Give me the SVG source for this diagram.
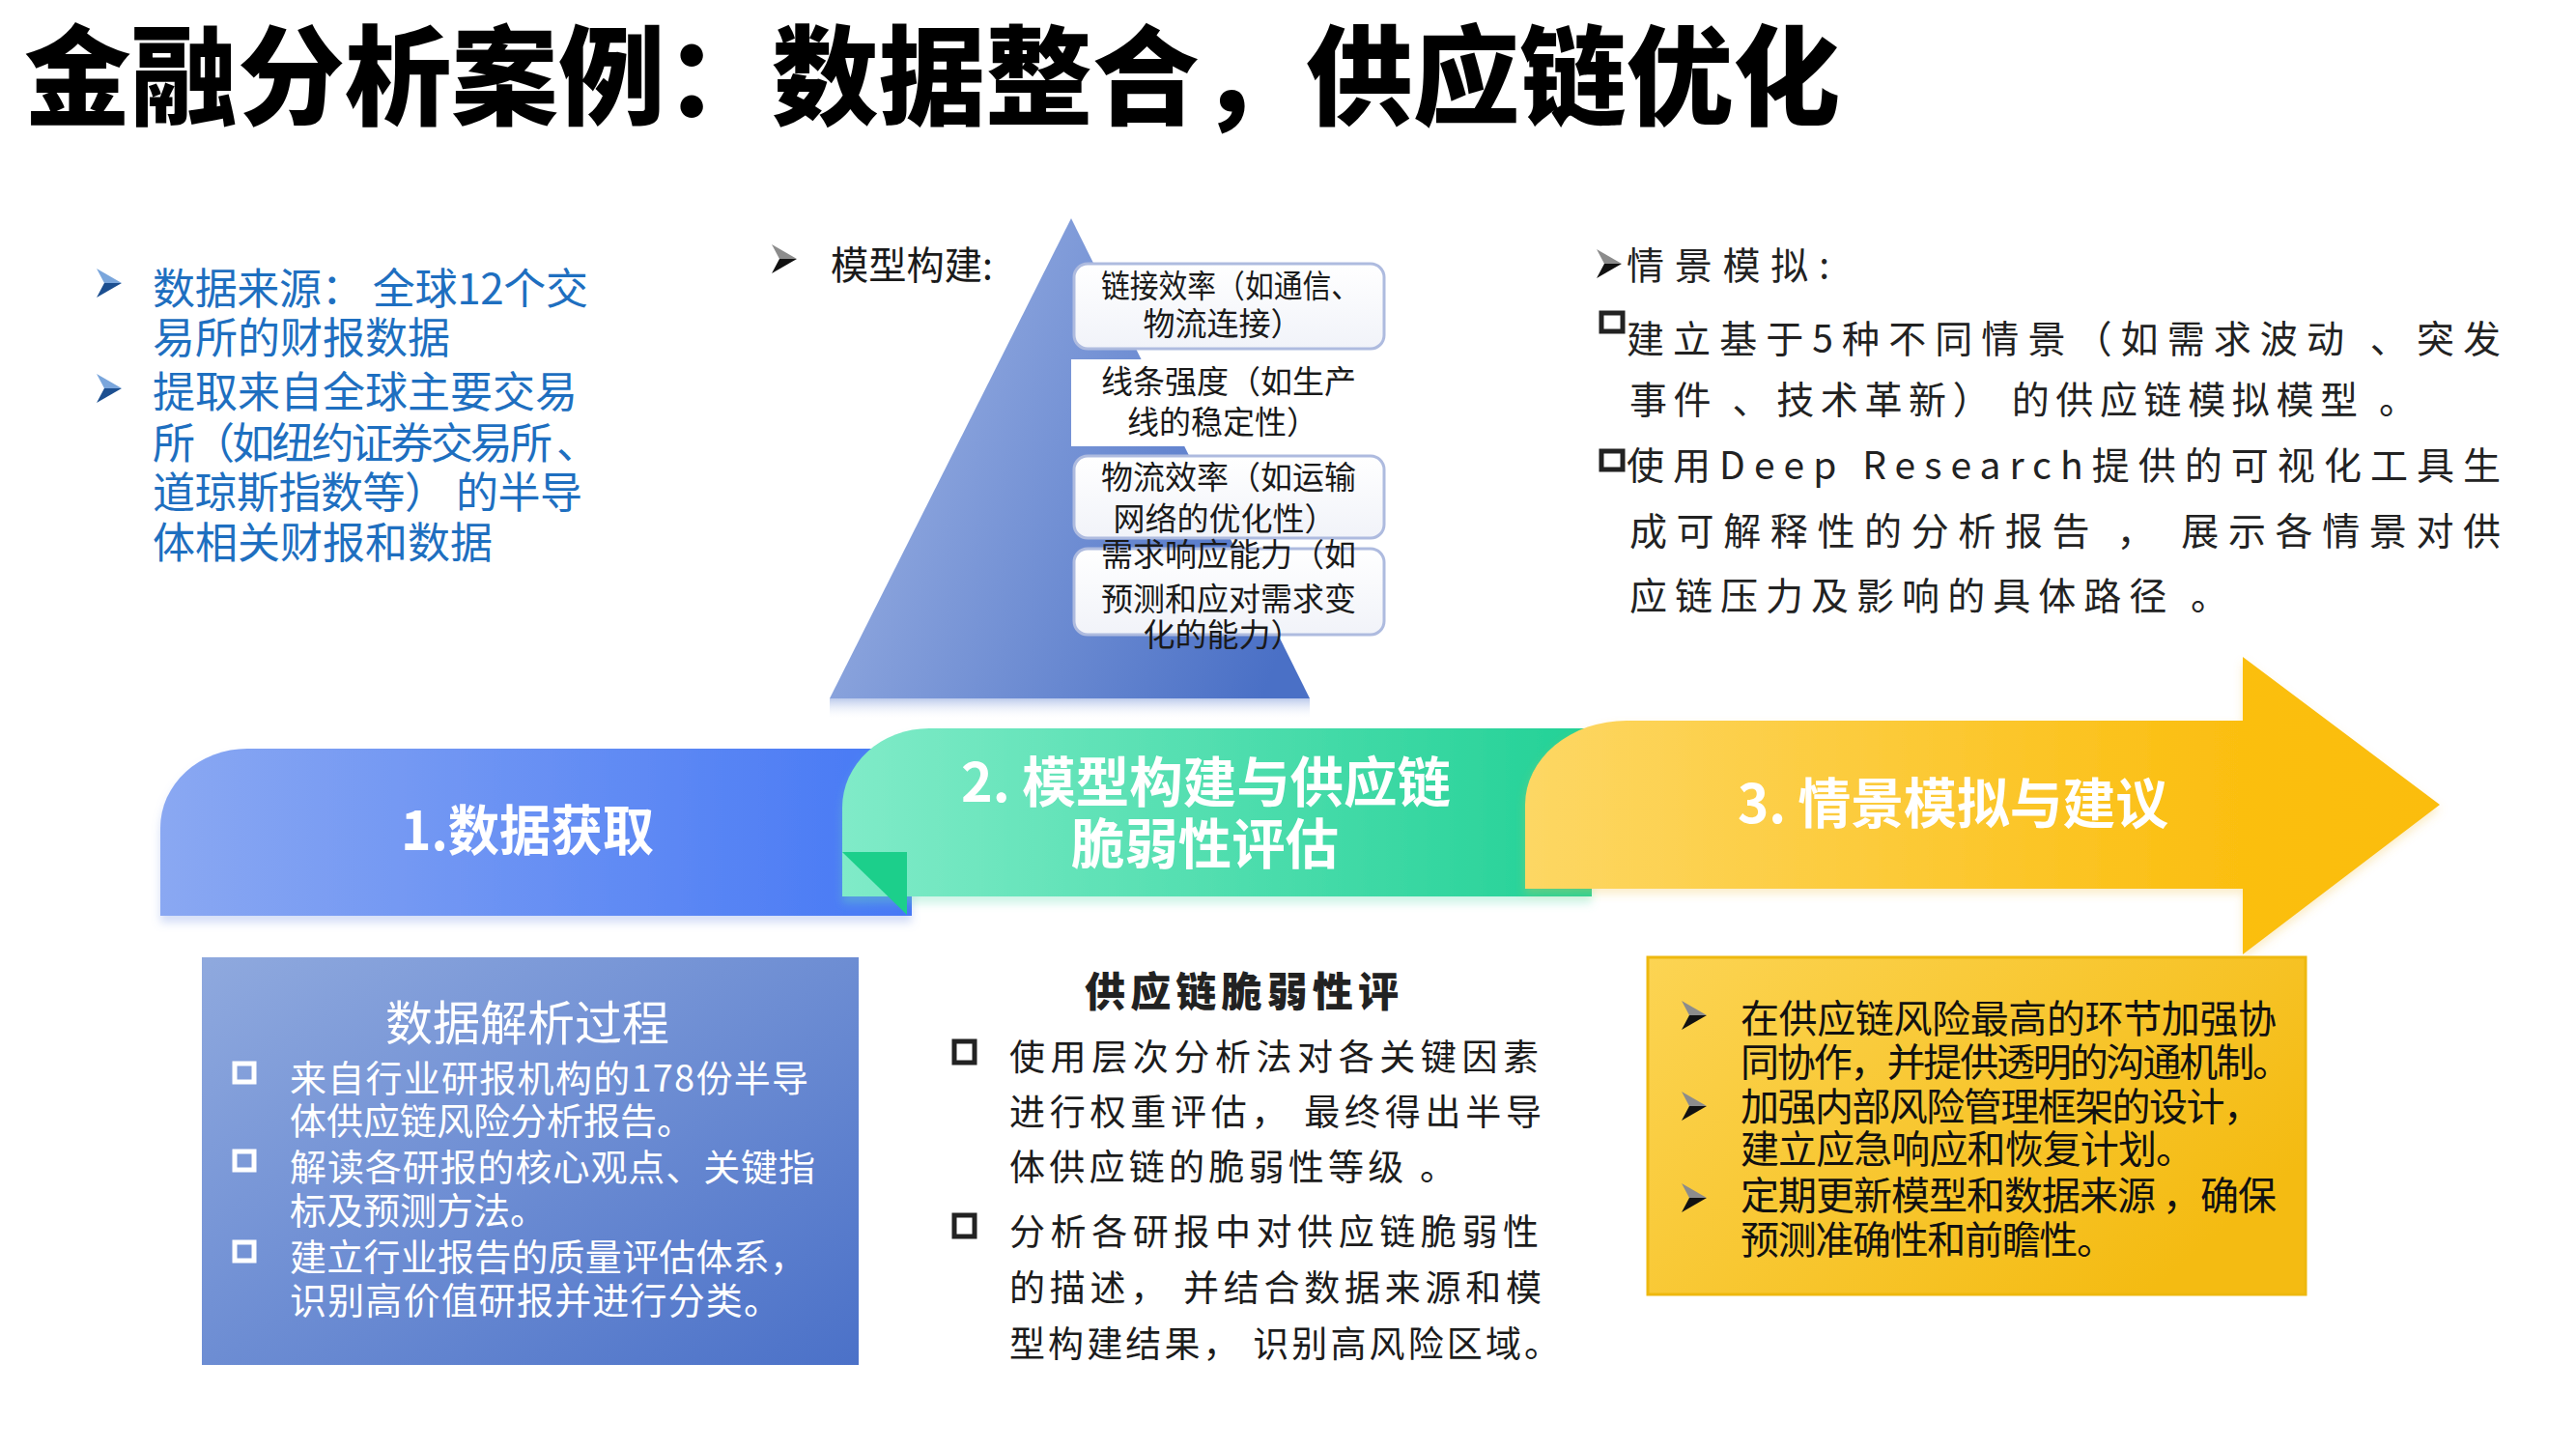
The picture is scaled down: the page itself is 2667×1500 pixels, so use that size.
<svg xmlns="http://www.w3.org/2000/svg" width="2667" height="1500" viewBox="0 0 2667 1500">
<style>
.t{font-family:"Noto Sans CJK SC","Noto Sans",sans-serif}
.title{font-size:112px;font-weight:900;fill:#000}
.blueTxt{font-size:44px;fill:#1e6fc0}
.lbl{font-size:33px;fill:#1a1a1a;text-anchor:middle}
.rt{font-size:39px;fill:#222}
.band{font-size:56px;font-weight:700;fill:#fff}
.wt{font-size:38px;fill:#fff}
.mt{font-size:37px;fill:#1c1c1c}
.yt{font-size:40px;fill:#111}
.box{fill:url(#gBoxW);stroke:#aebbdf;stroke-width:3}
.sqW{fill:none;stroke:#fff;stroke-width:5}
.sqD{fill:#fff;stroke:#222;stroke-width:5}
</style>
<defs>
<linearGradient id="gPyr" gradientUnits="userSpaceOnUse" x1="860" y1="400" x2="1356" y2="600">
<stop offset="0" stop-color="#9ab0e2"/><stop offset="1" stop-color="#4a70c6"/>
</linearGradient>
<linearGradient id="gRefl" x1="0" y1="0" x2="0" y2="1">
<stop offset="0" stop-color="#8ea6de" stop-opacity="0.6"/><stop offset="1" stop-color="#ffffff" stop-opacity="0"/>
</linearGradient>
<linearGradient id="gBoxW" x1="0" y1="0" x2="0" y2="1">
<stop offset="0" stop-color="#ffffff"/><stop offset="1" stop-color="#f1f3f9"/>
</linearGradient>
<linearGradient id="gBlue" gradientUnits="userSpaceOnUse" x1="166" y1="0" x2="944" y2="0">
<stop offset="0" stop-color="#8aa8f2"/><stop offset="1" stop-color="#4678f5"/>
</linearGradient>
<linearGradient id="gGreen" gradientUnits="userSpaceOnUse" x1="872" y1="0" x2="1648" y2="0">
<stop offset="0" stop-color="#80ebc8"/><stop offset="1" stop-color="#22d196"/>
</linearGradient>
<linearGradient id="gYel" gradientUnits="userSpaceOnUse" x1="1579" y1="0" x2="2526" y2="0">
<stop offset="0" stop-color="#fdd764"/><stop offset="0.75" stop-color="#fbbf12"/><stop offset="1" stop-color="#fbbd0a"/>
</linearGradient>
<linearGradient id="gBoxBlue" x1="0" y1="0" x2="1" y2="1">
<stop offset="0" stop-color="#8fa9de"/><stop offset="1" stop-color="#4b71c8"/>
</linearGradient>
<linearGradient id="gBoxYel" x1="0" y1="0" x2="1" y2="0.6">
<stop offset="0" stop-color="#fcd453"/><stop offset="1" stop-color="#f4bb12"/>
</linearGradient>
<filter id="shB" x="-5%" y="-5%" width="110%" height="125%"><feDropShadow dx="0" dy="7" stdDeviation="5" flood-color="#7f9de8" flood-opacity="0.35"/></filter>
<filter id="shG" x="-5%" y="-5%" width="110%" height="125%"><feDropShadow dx="0" dy="7" stdDeviation="5" flood-color="#6fe0b8" flood-opacity="0.35"/></filter>
<filter id="shY" x="-5%" y="-5%" width="110%" height="125%"><feDropShadow dx="0" dy="5" stdDeviation="5" flood-color="#f2c24a" flood-opacity="0.3"/></filter>
<g id="bulletBlue"><path d="M0,0 L26,15 L8,15 Z" fill="#7aa6dc"/><path d="M8,15 L26,15 L0,30 Z" fill="#1c4f90"/></g>
<g id="bulletDark"><path d="M0,0 L26,15 L8,15 Z" fill="#8c8c8c"/><path d="M8,15 L26,15 L0,30 Z" fill="#111"/></g>
</defs>

<rect width="2667" height="1500" fill="#fff"/>

<g id="title">
<text class="t title" x="25" y="121" textLength="1880" lengthAdjust="spacingAndGlyphs">金融分析案例：数据整合，供应链优化</text>
</g>

<g id="data-source-notes">
<use href="#bulletBlue" x="100" y="278"/>
<use href="#bulletBlue" x="100" y="387"/>
<text class="t blueTxt" x="158" y="315" textLength="451">数据来源： 全球12个交</text>
<text class="t blueTxt" x="158" y="366">易所的财报数据</text>
<text class="t blueTxt" x="158" y="422">提取来自全球主要交易</text>
<text class="t blueTxt" x="158" y="475" textLength="462">所（如纽约证券交易所 、</text>
<text class="t blueTxt" x="158" y="526" textLength="445">道琼斯指数等） 的半导</text>
<text class="t blueTxt" x="158" y="578">体相关财报和数据</text>
</g>

<g id="model-pyramid">
<polygon points="1109,226 1356,723 859,723" fill="url(#gPyr)"/>
<rect x="859" y="723" width="497" height="22" fill="url(#gRefl)"/>
<use href="#bulletDark" x="799" y="253"/>
<text class="t" x="860" y="289" font-size="40" fill="#1a1a1a" textLength="168" lengthAdjust="spacingAndGlyphs">模型构建:</text>
<rect class="box" x="1112" y="273" width="321" height="88" rx="14"/>
<rect x="1109" y="372" width="325" height="90" fill="#fff"/>
<rect class="box" x="1112" y="472" width="321" height="85" rx="14"/>
<rect class="box" x="1112" y="568" width="321" height="89" rx="14"/>
<text class="t lbl" x="1274" y="308" textLength="268" lengthAdjust="spacingAndGlyphs">链接效率（如通信、</text>
<text class="t lbl" x="1266" y="347">物流连接）</text>
<text class="t lbl" x="1272" y="407">线条强度（如生产</text>
<text class="t lbl" x="1266" y="449">线的稳定性）</text>
<text class="t lbl" x="1272" y="506">物流效率（如运输</text>
<text class="t lbl" x="1268" y="549">网络的优化性）</text>
<text class="t lbl" x="1272" y="586">需求响应能力（如</text>
<text class="t lbl" x="1272" y="632">预测和应对需求变</text>
<text class="t lbl" x="1266" y="669">化的能力）</text>
</g>

<g id="scenario-notes">
<use href="#bulletDark" x="1653" y="258"/>
<text class="t rt" x="1684" y="289" textLength="210">情景模拟:</text>
<rect class="sqD" x="1658" y="324" width="22" height="19"/>
<text class="t rt" x="1684" y="365" textLength="905">建立基于5种不同情景（如需求波动 、突发</text>
<text class="t rt" x="1687" y="428" textLength="815">事件 、技术革新） 的供应链模拟模型 。</text>
<rect class="sqD" x="1658" y="467" width="22" height="19"/>
<text class="t rt" x="1684" y="496" textLength="905">使用Deep  Research提供的可视化工具生</text>
<text class="t rt" x="1687" y="564" textLength="902">成可解释性的分析报告 ， 展示各情景对供</text>
<text class="t rt" x="1687" y="631" textLength="620">应链压力及影响的具体路径 。</text>
</g>

<g id="stage-1">
<path d="M166,948 V857 A90,82 0 0 1 256,775 H944 V948 Z" fill="url(#gBlue)" filter="url(#shB)"/>
<text class="t band" x="415" y="880" textLength="262" lengthAdjust="spacingAndGlyphs">1.数据获取</text>
</g>

<g id="stage-2">
<path d="M872,928 V836 A90,82 0 0 1 962,754 H1648 V928 Z" fill="url(#gGreen)" filter="url(#shG)"/>
<path d="M872,882 H939 V947 Z" fill="#1ccf8b"/>
<text class="t band" x="995" y="830" textLength="507" lengthAdjust="spacingAndGlyphs">2. 模型构建与供应链</text>
<text class="t band" x="1109" y="894" textLength="277" lengthAdjust="spacingAndGlyphs">脆弱性评估</text>
</g>

<g id="stage-3">
<path d="M1579,920 V833 A105,87 0 0 1 1684,746 H2322 V680 L2526,833 L2322,988 V920 Z" fill="url(#gYel)" filter="url(#shY)"/>
<text class="t band" x="1799" y="852" textLength="446" lengthAdjust="spacingAndGlyphs">3. 情景模拟与建议</text>
</g>

<g id="connectors"></g>

<g id="data-parsing-box">
<rect x="209" y="991" width="680" height="422" fill="url(#gBoxBlue)"/>
<text class="t" x="546" y="1077" font-size="49" fill="#fff" text-anchor="middle">数据解析过程</text>
<rect class="sqW" x="243" y="1101" width="20" height="19"/>
<rect class="sqW" x="243" y="1192" width="20" height="19"/>
<rect class="sqW" x="243" y="1286" width="20" height="19"/>
<text class="t wt" x="300" y="1130" textLength="537">来自行业研报机构的178份半导</text>
<text class="t wt" x="300" y="1174">体供应链风险分析报告。</text>
<text class="t wt" x="300" y="1222" textLength="544">解读各研报的核心观点、关键指</text>
<text class="t wt" x="300" y="1267">标及预测方法。</text>
<text class="t wt" x="300" y="1315" textLength="535">建立行业报告的质量评估体系，</text>
<text class="t wt" x="300" y="1360" textLength="508">识别高价值研报并进行分类。</text>
</g>

<g id="vulnerability-box">
<text class="t" x="1123" y="1042" font-size="42" font-weight="900" fill="#222" textLength="325">供应链脆弱性评</text>
<rect class="sqD" x="988" y="1078" width="21" height="22"/>
<rect class="sqD" x="988" y="1258" width="21" height="22"/>
<text class="t mt" x="1045" y="1108" textLength="548">使用层次分析法对各关键因素</text>
<text class="t mt" x="1045" y="1165" textLength="551">进行权重评估， 最终得出半导</text>
<text class="t mt" x="1045" y="1222" textLength="462">体供应链的脆弱性等级 。</text>
<text class="t mt" x="1045" y="1289" textLength="548">分析各研报中对供应链脆弱性</text>
<text class="t mt" x="1045" y="1347" textLength="551">的描述， 并结合数据来源和模</text>
<text class="t mt" x="1045" y="1405" textLength="570">型构建结果， 识别高风险区域。</text>
</g>

<g id="recommendation-box">
<rect x="1706" y="991" width="681" height="349" fill="url(#gBoxYel)" stroke="#eeb80e" stroke-width="3"/>
<use href="#bulletDark" x="1741" y="1036"/>
<use href="#bulletDark" x="1741" y="1130"/>
<use href="#bulletDark" x="1741" y="1225"/>
<text class="t yt" x="1802" y="1069" textLength="555">在供应链风险最高的环节加强协</text>
<text class="t yt" x="1802" y="1114" textLength="570">同协作，并提供透明的沟通机制。</text>
<text class="t yt" x="1802" y="1160" textLength="540">加强内部风险管理框架的设计，</text>
<text class="t yt" x="1802" y="1204" textLength="470">建立应急响应和恢复计划。</text>
<text class="t yt" x="1802" y="1252" textLength="555">定期更新模型和数据来源 ，确保</text>
<text class="t yt" x="1802" y="1298" textLength="388">预测准确性和前瞻性。</text>
</g>
</svg>
